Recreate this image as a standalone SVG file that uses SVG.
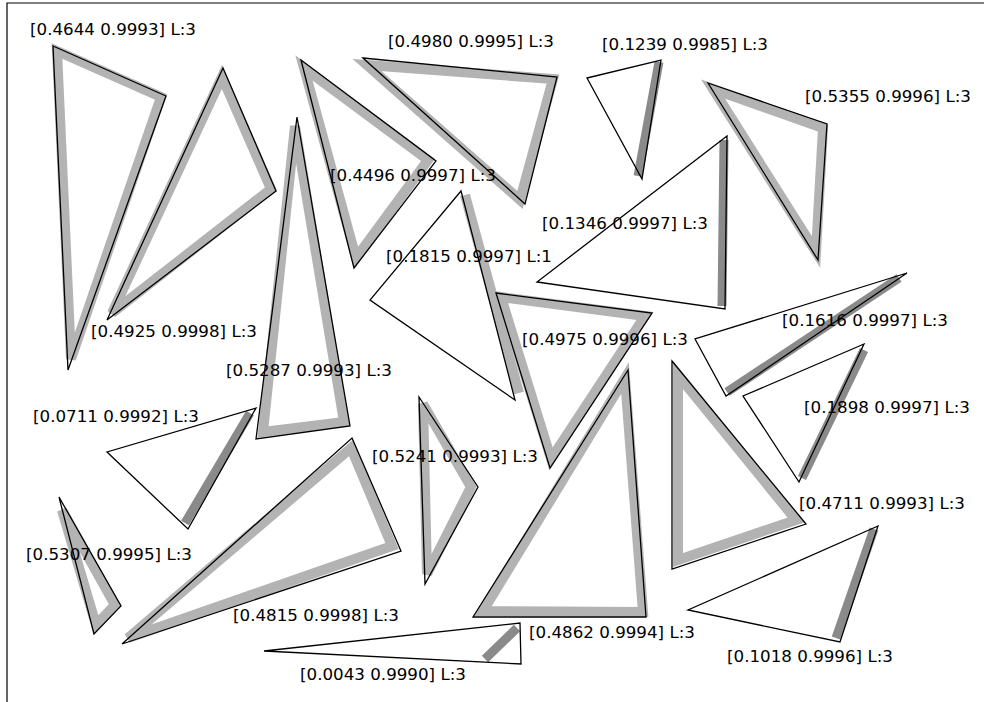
<svg xmlns="http://www.w3.org/2000/svg" width="984" height="702" viewBox="0 0 984 702">
<style>
.gt{fill:none;stroke:#b3b3b3;stroke-width:10}
.gd{fill:none;stroke:#8a8a8a;stroke-width:9}
.p{fill:none;stroke:#000;stroke-width:1.3}
text{font-family:"DejaVu Sans","Liberation Sans",sans-serif;font-size:16.7px;fill:#000}
</style>
<rect width="984" height="702" fill="#fff"/>
<path d="M7,702 V3 H984" fill="none" stroke="#000" stroke-width="1.2"/>
<g id="tA"><polygon class="gt" points="57,51 161,97 71,359"/><polygon class="p" points="53,46 166,96 68,370"/></g>
<g id="tB"><polygon class="gt" points="222,77 271,189 112,313"/><polygon class="p" points="223,68 276,191 107,320"/></g>
<g id="tC"><polygon class="gt" points="304,68 428,160 356,258"/><polygon class="p" points="301,60 436,161 354,268"/></g>
<g id="tD"><polygon class="gt" points="367,65 553,79 520,200"/><polygon class="p" points="363,58 557,77 525,204"/></g>
<g id="tE"><line class="gd" x1="659" y1="62" x2="638" y2="176"/><polygon class="p" points="587,78 661,60 642,179"/></g>
<g id="tF"><polygon class="gt" points="713,89 823,128 816,252"/><polygon class="p" points="708,83 827,124 818,260"/></g>
<g id="tG"><line class="gd" x1="724" y1="140" x2="722" y2="306"/><polygon class="p" points="727,136 537,282 725,309"/></g>
<g id="tH"><line class="gt" x1="465" y1="195" x2="519" y2="393"/><polygon class="p" points="461,191 370,300 515,400"/></g>
<g id="tI"><polygon class="gt" points="501,297 645,316 551,459"/><polygon class="p" points="496,293 652,313 550,468"/></g>
<g id="tJ"><polygon class="gt" points="295,126 263,432 344,422"/><polygon class="p" points="297,117 256,439 350,426"/></g>
<g id="tK"><line class="gd" x1="250" y1="413" x2="185" y2="523"/><polygon class="p" points="256,408 107,452 188,529"/></g>
<g id="tL"><polygon class="gt" points="423,404 471,487 427,574"/><polygon class="p" points="419,397 478,487 425,584"/></g>
<g id="tM"><polygon class="gt" points="351,448 392,546 128,638"/><polygon class="p" points="352,438 401,551 122,644"/></g>
<g id="tN"><polygon class="gt" points="62,510 115,605 96,625"/><polygon class="p" points="59,497 121,606 94,634"/></g>
<g id="tO"><polygon class="gt" points="625,378 483,611 643,612"/><polygon class="p" points="628,370 473,617 646,617"/></g>
<g id="tP"><line class="gd" stroke-width="10" x1="517" y1="628" x2="485" y2="659"/><polygon class="p" points="264,651 520,623 521,664"/></g>
<g id="tQ"><polygon class="gt" points="678,375 796,520 678,560"/><polygon class="p" points="672,361 806,524 672,569"/></g>
<g id="tR"><line class="gd" x1="727" y1="392" x2="899" y2="278"/><polygon class="p" points="907,273 695,339 726,396"/></g>
<g id="tS"><line class="gd" x1="864" y1="350" x2="802" y2="478"/><polygon class="p" points="864,344 743,396 799,482"/></g>
<g id="tT"><line class="gd" x1="874" y1="529" x2="836" y2="638"/><polygon class="p" points="878,526 688,610 840,642"/></g>
<g id="labels">
<text x="30" y="35">[0.4644 0.9993] L:3</text>
<text x="91" y="337">[0.4925 0.9998] L:3</text>
<text x="330" y="181">[0.4496 0.9997] L:3</text>
<text x="388" y="47">[0.4980 0.9995] L:3</text>
<text x="602" y="50">[0.1239 0.9985] L:3</text>
<text x="805" y="102">[0.5355 0.9996] L:3</text>
<text x="542" y="229">[0.1346 0.9997] L:3</text>
<text x="386" y="262">[0.1815 0.9997] L:1</text>
<text x="522" y="345">[0.4975 0.9996] L:3</text>
<text x="226" y="376">[0.5287 0.9993] L:3</text>
<text x="33" y="422">[0.0711 0.9992] L:3</text>
<text x="372" y="462">[0.5241 0.9993] L:3</text>
<text x="233" y="621">[0.4815 0.9998] L:3</text>
<text x="26" y="560">[0.5307 0.9995] L:3</text>
<text x="529" y="638">[0.4862 0.9994] L:3</text>
<text x="300" y="680">[0.0043 0.9990] L:3</text>
<text x="799" y="509">[0.4711 0.9993] L:3</text>
<text x="782" y="326">[0.1616 0.9997] L:3</text>
<text x="804" y="413">[0.1898 0.9997] L:3</text>
<text x="727" y="662">[0.1018 0.9996] L:3</text>
</g>
</svg>
